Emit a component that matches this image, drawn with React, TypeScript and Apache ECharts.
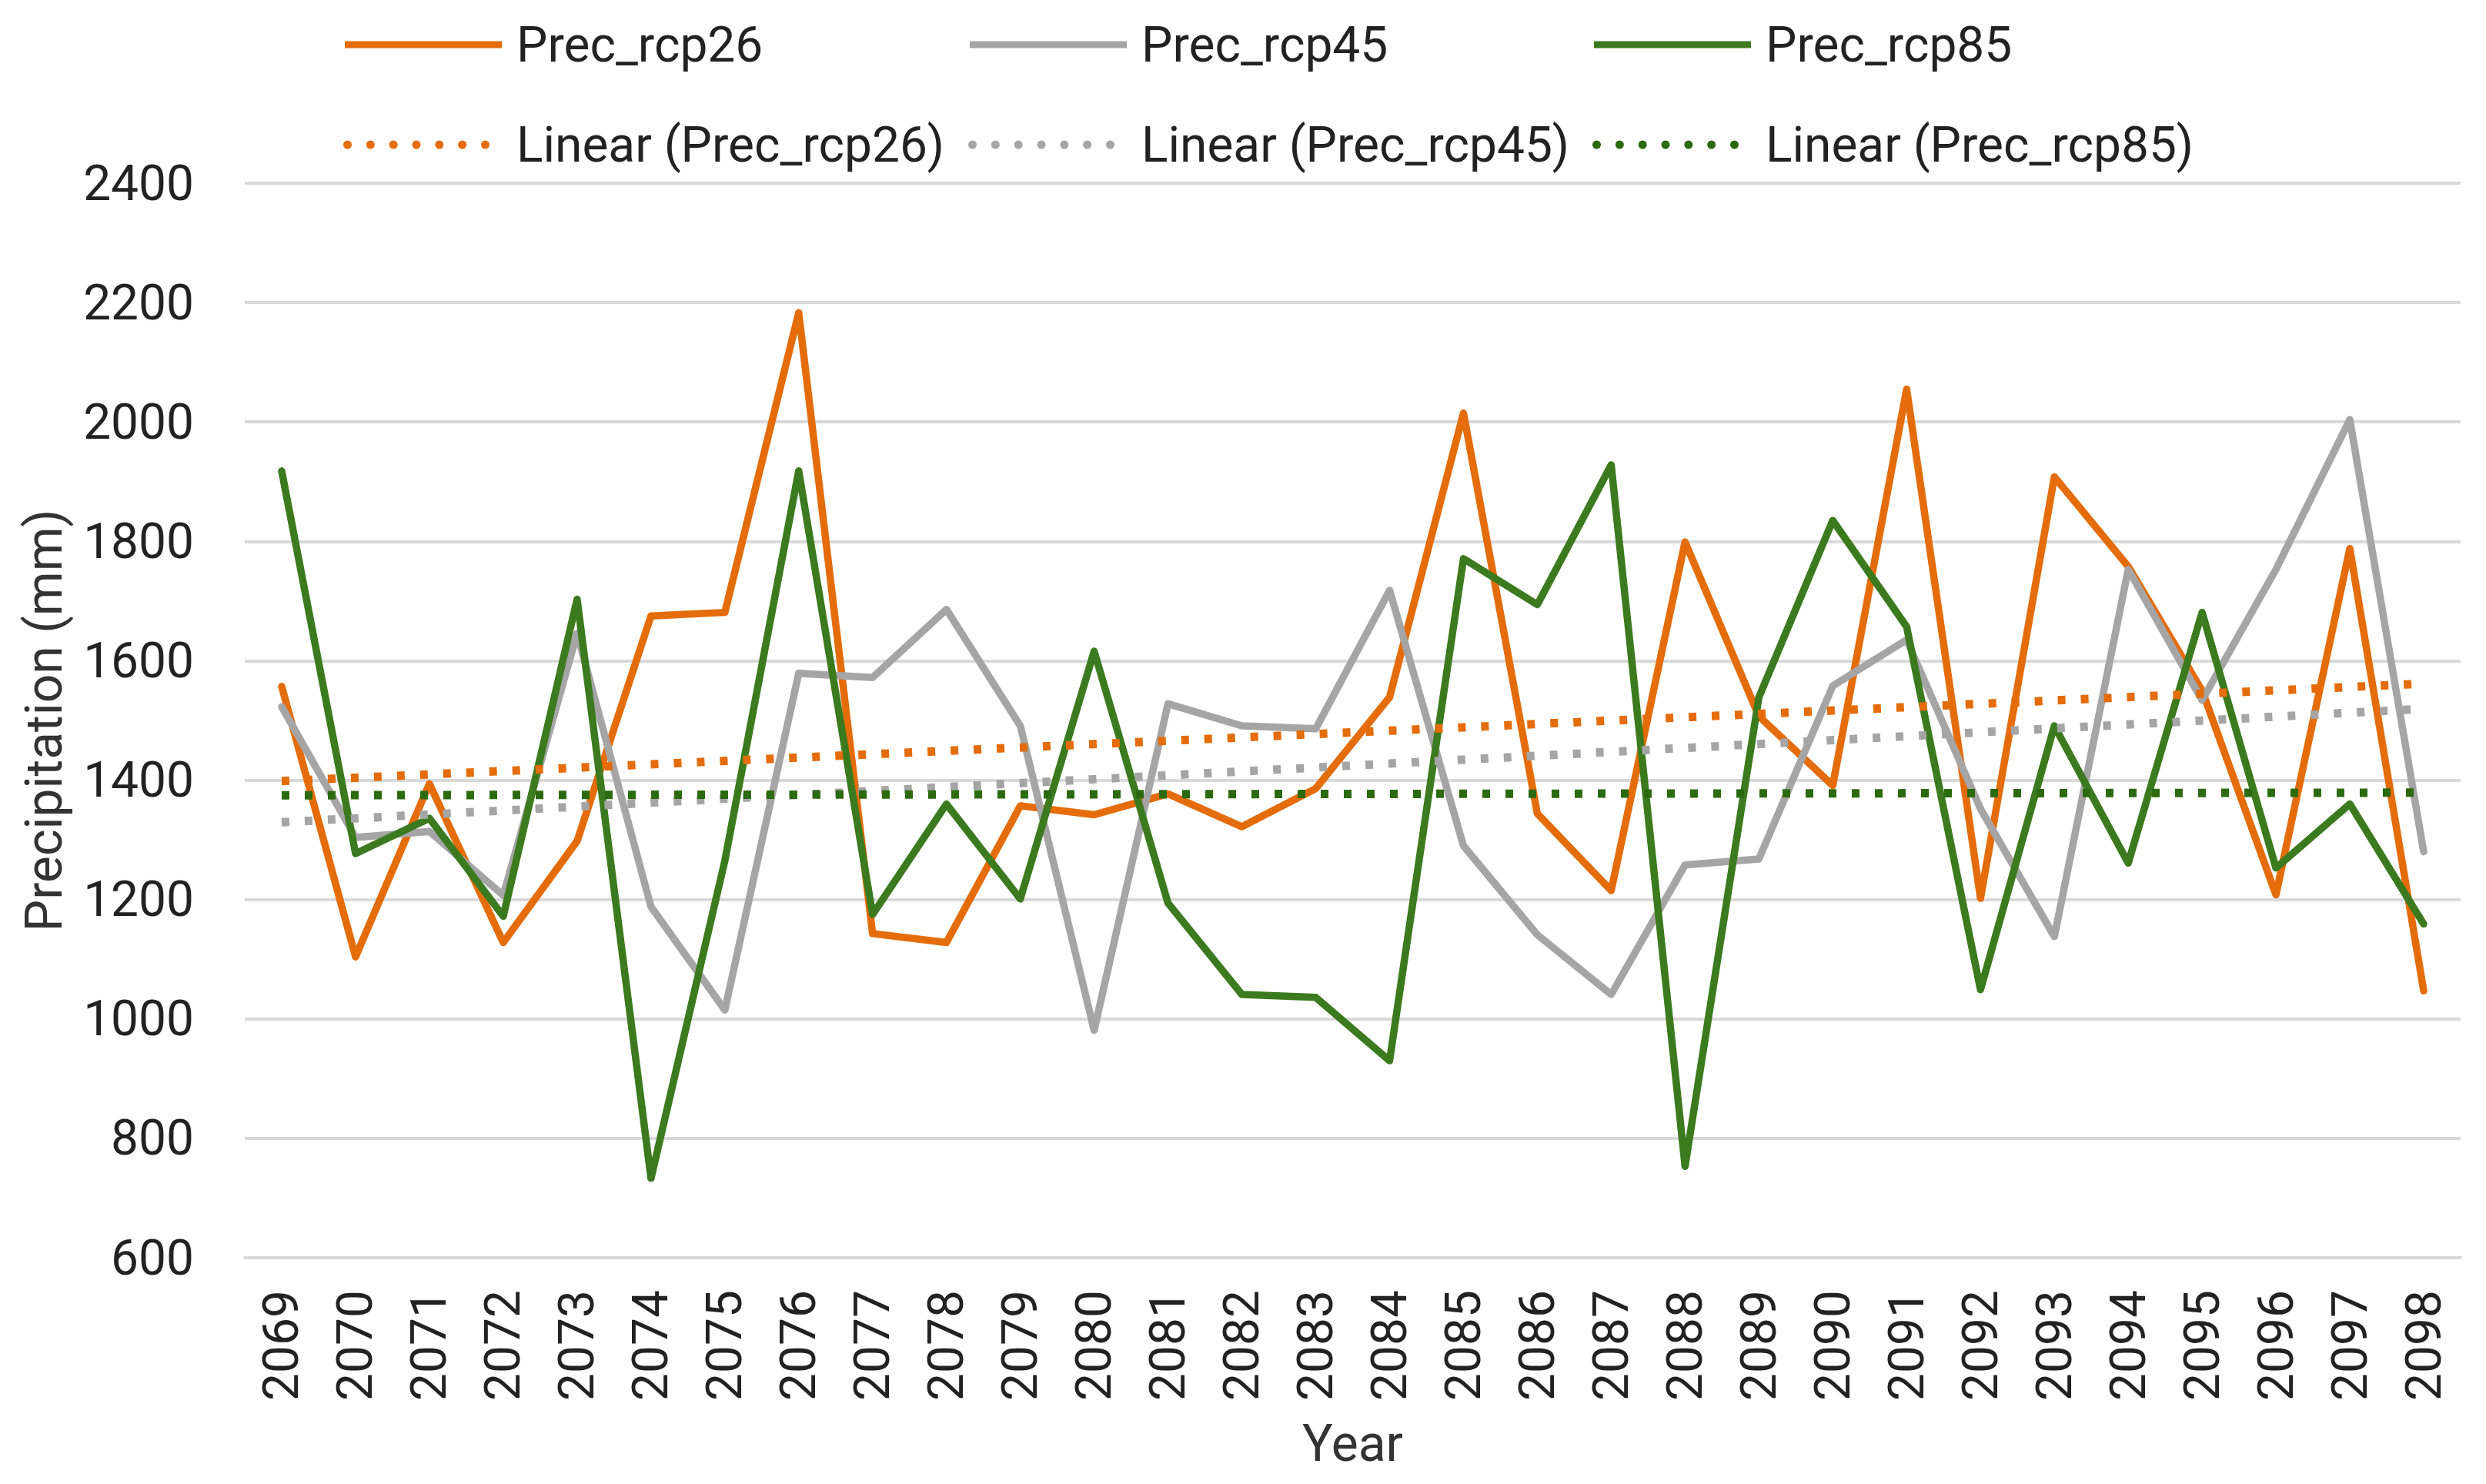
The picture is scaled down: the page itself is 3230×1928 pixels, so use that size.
import React, { useEffect, useRef } from "react";
import * as echarts from "echarts";

const years = [
  "2069","2070","2071","2072","2073","2074","2075","2076","2077","2078",
  "2079","2080","2081","2082","2083","2084","2085","2086","2087","2088",
  "2089","2090","2091","2092","2093","2094","2095","2096","2097","2098",
];

const precRcp26 = [
  1557, 1104, 1394, 1128, 1298, 1675, 1681, 2183, 1143, 1128,
  1357, 1342, 1377, 1322, 1386, 1539, 2015, 1344, 1215, 1799,
  1507, 1391, 2055, 1202, 1908, 1758, 1550, 1208, 1788, 1047,
];

const precRcp45 = [
  1523, 1304, 1314, 1207, 1646, 1188, 1015, 1579, 1572, 1686,
  1491, 981, 1528, 1491, 1486, 1718, 1290, 1141, 1041, 1258,
  1268, 1558, 1635, 1352, 1138, 1753, 1534, 1753, 2004, 1280,
];

const precRcp85 = [
  1918, 1277, 1336, 1172, 1703, 733, 1265, 1918, 1175, 1360,
  1201, 1616, 1194, 1041, 1036, 930, 1771, 1694, 1928, 753,
  1539, 1835, 1657, 1049, 1491, 1261, 1681, 1253, 1360, 1159,
];

const yTicks = { min: 600, max: 2400, interval: 200 };

const COLORS = {
  rcp26: "#E46C0A",
  rcp45: "#A5A5A5",
  rcp85: "#3B7A1E",
  trend85: "#2C6A10",
};

// Excel-style linear trendline derived from the series values
function linearTrend(values: number[]): number[] {
  const n = values.length;
  const xs = values.map((_, i) => i + 1);
  const mx = xs.reduce((a, b) => a + b, 0) / n;
  const my = values.reduce((a, b) => a + b, 0) / n;
  let sxy = 0;
  let sxx = 0;
  for (let i = 0; i < n; i++) {
    sxy += (xs[i] - mx) * (values[i] - my);
    sxx += (xs[i] - mx) * (xs[i] - mx);
  }
  const slope = sxy / sxx;
  const intercept = my - slope * mx;
  return xs.map((x) => +(intercept + slope * x).toFixed(2));
}

// legend icon: a row of dots
function dotsIcon(count: number, width: number, r: number): string {
  const step = (width - 2 * r) / (count - 1);
  let d = "path://";
  for (let k = 0; k < count; k++) {
    const cx = r + k * step;
    d += `M${(cx - r).toFixed(2)},${r}a${r},${r} 0 1,0 ${2 * r},0a${r},${r} 0 1,0 ${-2 * r},0Z`;
  }
  return d;
}

const FONT = "Roboto, 'Noto Sans', sans-serif";

export default function App() {
  const ref = useRef<HTMLDivElement>(null);

  useEffect(() => {
    document.body.style.margin = "0";
    if (!ref.current) return;
    const chart = echarts.init(ref.current, null, { renderer: "svg" });

    const solid = (name: string, data: number[], color: string) => ({
      name,
      type: "line",
      data,
      symbol: "none",
      smooth: false,
      lineStyle: { color, width: 9.5, cap: "round", join: "round" },
      itemStyle: { color },
      z: 3,
    });

    const dotted = (name: string, data: number[], color: string) => ({
      name,
      type: "line",
      data,
      symbol: "none",
      lineStyle: { color, width: 11, type: [10, 20], cap: "butt" },
      itemStyle: { color },
      z: 4,
    });

    const mkLegend = (
      name: string,
      left: number,
      top: number,
      dottedIcon: boolean
    ) => ({
      data: [
        dottedIcon
          ? { name, icon: dotsIcon(7, 190, 5.5) }
          : { name, icon: "rect" },
      ],
      left,
      top,
      itemWidth: dottedIcon ? 190 : 204,
      itemHeight: dottedIcon ? 11 : 9,
      textStyle: {
        fontFamily: FONT,
        fontSize: 64,
        color: "#222222",
        padding: [0, 0, 0, dottedIcon ? 30 : 14],
      },
      selectedMode: false,
    });

    const row1 = 21;
    const row2 = 151;

    chart.setOption({
      animation: false,
      backgroundColor: "#ffffff",
      legend: [
        mkLegend("Prec_rcp26", 443, row1, false),
        mkLegend("Prec_rcp45", 1255, row1, false),
        mkLegend("Prec_rcp85", 2066, row1, false),
        mkLegend("Linear (Prec_rcp26)", 441, row2, true),
        mkLegend("Linear (Prec_rcp45)", 1253, row2, true),
        mkLegend("Linear (Prec_rcp85)", 2064, row2, true),
      ],
      grid: { left: 318, right: 33, top: 238, bottom: 294, containLabel: false },
      xAxis: {
        type: "category",
        data: years,
        boundaryGap: true,
        name: "Year",
        nameLocation: "middle",
        nameGap: 208,
        nameTextStyle: { fontFamily: FONT, fontSize: 66, color: "#333333" },
        axisLine: { show: true, lineStyle: { color: "#D9D9D9", width: 4 } },
        axisTick: { show: false },
        axisLabel: {
          rotate: 90,
          margin: 42,
          fontFamily: FONT,
          fontSize: 64,
          color: "#222222",
          interval: 0,
        },
        splitLine: { show: false },
      },
      yAxis: {
        type: "value",
        min: yTicks.min,
        max: yTicks.max,
        interval: yTicks.interval,
        name: "Precipitation (mm)",
        nameLocation: "middle",
        nameGap: 228,
        nameRotate: 90,
        nameTextStyle: { fontFamily: FONT, fontSize: 66, color: "#333333" },
        axisLine: { show: false },
        axisTick: { show: false },
        axisLabel: {
          margin: 66,
          fontFamily: FONT,
          fontSize: 64,
          color: "#222222",
          formatter: (v: number) => String(v),
        },
        splitLine: { show: true, lineStyle: { color: "#D9D9D9", width: 4 } },
      },
      series: [
        solid("Prec_rcp26", precRcp26, COLORS.rcp26),
        solid("Prec_rcp45", precRcp45, COLORS.rcp45),
        solid("Prec_rcp85", precRcp85, COLORS.rcp85),
        dotted("Linear (Prec_rcp26)", linearTrend(precRcp26), COLORS.rcp26),
        dotted("Linear (Prec_rcp45)", linearTrend(precRcp45), COLORS.rcp45),
        dotted("Linear (Prec_rcp85)", linearTrend(precRcp85), COLORS.trend85),
      ],
    });

    return () => chart.dispose();
  }, []);

  return (
    <div
      ref={ref}
      style={{ position: "absolute", left: 0, top: 0, width: 3230, height: 1928 }}
    />
  );
}
